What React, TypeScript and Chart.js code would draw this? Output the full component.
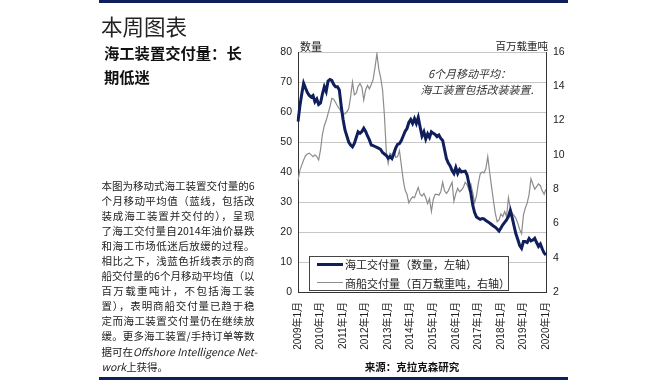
import React, { useEffect, useRef } from 'react';
import { Chart, registerables } from 'chart.js';

Chart.register(...registerables);

const yearTickLabels: string[] = [
  '2009年1月', '2010年1月', '2011年1月', '2012年1月', '2013年1月', '2014年1月',
  '2015年1月', '2016年1月', '2017年1月', '2018年1月', '2019年1月', '2020年1月',
];

const categories: string[] = [];
for (let y = 2009; y <= 2020; y++) {
  for (let m = 1; m <= 12; m++) {
    if (y === 2020 && m > 1) break;
    categories.push(`${y}年${m}月`);
  }
}

// 海工交付量（数量，左轴）- 6个月移动平均
const offshoreDeliveries: number[] = [
  56.8, 62, 66, 69.6, 68, 66.5, 65.5, 65, 65.5, 63.4,
  64.3, 62.5, 63, 66, 68.4, 66.8, 70.3, 70.8, 70.5, 69.2,
  68.4, 68.4, 67.3, 62, 57.5, 54, 52, 50, 49, 48.4,
  49.5, 51.5, 53.4, 52.9, 53.5, 54.6, 53.5, 52, 50.7, 49,
  48.8, 48.5, 48.2, 47.9, 47.5, 46.5, 46, 45.5, 44.6, 45.2,
  44.5, 46, 48, 49.2, 49.5, 50.5, 52, 53.5, 54.5, 56.5,
  57.5, 56.2, 57.8, 56.2, 58.2, 55, 52, 53.4, 51, 52.7,
  51.5, 53.4, 52.9, 52.5, 51.8, 52.3, 51.2, 50.5, 47.5, 44.5,
  43, 42, 40.5, 39.5, 41.5, 39.5, 40.8, 40, 40.2, 40.3,
  39, 36, 33, 29, 26.5, 25, 24.6, 24.2, 24.5, 24.4,
  23.8, 23.4, 23, 22.5, 22, 21.6, 21, 20.3, 21.3, 22.4,
  23.2, 24, 25.2, 27.2, 24.8, 22, 19.3, 17.5, 15.5, 14.6,
  16.8, 16.8, 16.5, 17.8, 17, 17.3, 17.9, 16.5, 15.2, 16,
  14.4, 13, 12.3,
];

// 商船交付量（百万载重吨，右轴）- 6个月移动平均
const merchantDeliveries: number[] = [
  8.5, 9.1, 9.4, 9.7, 9.95, 10.05, 10.1, 10.0, 9.9, 10.0,
  9.9, 9.7, 10.3, 11.2, 11.7, 12.0, 12.4, 12.8, 13.3, 13.25,
  13.05, 12.85, 12.7, 12.5, 12.35, 12.4, 12.5, 12.7, 13.4, 14.25,
  13.5, 13.6, 14.0, 14.15, 13.95, 13.2, 13.8, 14.05, 13.85, 14.1,
  14.4, 15.1, 15.9, 15.0, 14.5, 13.8, 12.3, 10.2, 9.5, 10.1,
  10.0, 10.25, 9.85, 9.9, 10.25, 9.4, 8.55, 7.95, 7.7, 7.2,
  7.4, 7.55, 7.5, 7.8, 8.1, 7.7, 7.6, 7.75, 7.5, 7.15,
  7.45, 6.7, 7.4, 7.7, 7.7, 7.65, 7.85, 8.4, 7.9, 7.75,
  7.9, 8.15, 8.4, 7.3, 7.75, 8.05, 7.85, 7.95, 8.1, 8.4,
  8.25, 7.95, 8.3, 7.8, 7.2, 7.6, 8.35, 8.9, 9.0, 8.95,
  9.2, 9.9, 9.0, 8.15, 7.35, 6.6, 6.1, 6.2, 6.55, 6.4,
  6.7, 6.4, 7.5, 6.9, 6.6, 6.45, 6.3, 6.0, 5.65, 5.4,
  6.5, 6.9, 7.2, 7.7, 8.6, 8.3, 8.0, 8.15, 8.3, 8.2,
  7.9, 7.7, 8.0,
];

const seriesNames = ['海工交付量（数量，左轴）', '商船交付量（百万载重吨，右轴）'];

const paragraphLines: React.ReactNode[] = [
  '本图为移动式海工装置交付量的6',
  '个月移动平均值（蓝线，包括改',
  '装成海工装置并交付的），呈现',
  '了海工交付量自2014年油价暴跌',
  '和海工市场低迷后放缓的过程。',
  '相比之下，浅蓝色折线表示的商',
  '船交付量的6个月移动平均值（以',
  '百万载重吨计，不包括海工装',
  '置），表明商船交付量已趋于稳',
  '定而海工装置交付量仍在继续放',
  '缓。更多海工装置/手持订单等数',
  <>据可在<i>Offshore Intelligence Net-</i></>,
  <><i>work</i>上获得。</>,
];

const NAVY = '#0f1f5c';
const GRAY = '#8c8c8c';
const CJK = "'Noto Sans CJK SC', sans-serif";
const TICKFONT = "'Liberation Sans', 'Noto Sans CJK SC', sans-serif";

export default function App() {
  const ref = useRef<HTMLCanvasElement | null>(null);

  useEffect(() => {
    if (!ref.current) return;
    const chart = new Chart(ref.current, {
      type: 'line',
      data: {
        labels: categories,
        datasets: [
          {
            label: seriesNames[0],
            data: offshoreDeliveries,
            borderColor: NAVY,
            borderWidth: 3,
            pointRadius: 0,
            tension: 0,
            yAxisID: 'y',
          },
          {
            label: seriesNames[1],
            data: merchantDeliveries,
            borderColor: GRAY,
            borderWidth: 1.2,
            pointRadius: 0,
            tension: 0,
            yAxisID: 'y1',
          },
        ],
      },
      options: {
        animation: false,
        responsive: false,
        events: [],
        layout: { padding: { left: 258, right: 84, top: 52, bottom: 8 } },
        plugins: { legend: { display: false }, tooltip: { enabled: false } },
        scales: {
          x: {
            type: 'category',
            grid: { display: false, drawTicks: false },
            border: { display: true, color: '#333', width: 1 },
            afterFit: (s: any) => { s.height = 80; },
            ticks: {
              autoSkip: false,
              minRotation: 90,
              maxRotation: 90,
              padding: 10,
              color: '#222',
              font: { family: TICKFONT, size: 10 },
              callback: function (this: any, value: any) {
                const lab = this.getLabelForValue(value);
                return yearTickLabels.includes(lab) ? lab : '';
              },
            },
          },
          y: {
            position: 'left',
            min: 0,
            max: 80,
            grid: { color: '#c6c6c6', lineWidth: 1, drawTicks: false },
            border: { display: true, color: '#333', width: 1 },
            afterFit: (s: any) => { s.width = 40; },
            ticks: {
              stepSize: 10,
              padding: 6,
              color: '#222',
              font: { family: TICKFONT, size: 10.5 },
            },
          },
          y1: {
            position: 'right',
            min: 2,
            max: 16,
            grid: { display: false, drawTicks: false },
            border: { display: true, color: '#333', width: 1 },
            afterFit: (s: any) => { s.width = 40; },
            ticks: {
              stepSize: 2,
              padding: 7,
              color: '#222',
              font: { family: TICKFONT, size: 10.5 },
            },
          },
        },
      },
    });
    return () => chart.destroy();
  }, []);

  const abs = (o: React.CSSProperties): React.CSSProperties => ({ position: 'absolute', ...o });

  return (
    <div style={abs({ left: 0, top: 0, width: 670, height: 380, background: '#fff', overflow: 'hidden', fontFamily: CJK, color: '#222' })}>
      <canvas ref={ref} width={670} height={380} style={abs({ left: 0, top: 0, width: 670, height: 380 })} />

      <div style={abs({ left: 99, top: 0, width: 469, height: 3, background: NAVY })} />
      <div style={abs({ left: 99, top: 377, width: 469, height: 3, background: NAVY })} />

      <div style={abs({ left: 101, top: 11, fontSize: 21.5, lineHeight: '30px', whiteSpace: 'nowrap', color: '#222' })}>本周图表</div>
      <div style={abs({ left: 104, top: 40, fontSize: 15.3, fontWeight: 700, lineHeight: '24px', whiteSpace: 'nowrap', color: '#111' })}>
        海工装置交付量：长<br />期低迷
      </div>

      <div style={abs({ left: 101.5, top: 177.5, width: 153, fontSize: 10.5, lineHeight: '15.1px', color: '#222' })}>
        {paragraphLines.map((ln, i) => (
          <div
            key={i}
            style={{
              textAlign: i === paragraphLines.length - 1 ? 'left' : 'justify',
              textAlignLast: i === paragraphLines.length - 1 ? 'left' : 'justify',
              whiteSpace: 'nowrap',
              height: '15.1px',
            }}
          >
            {ln}
          </div>
        ))}
      </div>

      <div style={abs({ left: 300, top: 38, fontSize: 11, lineHeight: '16px', whiteSpace: 'nowrap' })}>数量</div>
      <div style={abs({ right: 670 - 548, top: 38, fontSize: 10.5, lineHeight: '16px', whiteSpace: 'nowrap' })}>百万载重吨</div>

      <div style={abs({ left: 369.5, width: 200, top: 65, textAlign: 'center', fontSize: 11, fontStyle: 'italic', lineHeight: '16px', color: '#333', whiteSpace: 'nowrap' })}>6个月移动平均：</div>
      <div style={abs({ left: 377, width: 200, top: 81, textAlign: 'center', fontSize: 11, fontStyle: 'italic', lineHeight: '16px', color: '#333', whiteSpace: 'nowrap' })}>海工装置包括改装装置.</div>

      <div style={abs({ left: 309, top: 256, width: 200, height: 35, boxSizing: 'border-box', border: '1px solid #444', background: '#fff' })}>
        <div style={abs({ left: 7, top: 5.5, width: 26, height: 3, background: NAVY })} />
        <div style={abs({ left: 35, top: -1, fontSize: 11, lineHeight: '16px', whiteSpace: 'nowrap' })}>{seriesNames[0]}</div>
        <div style={abs({ left: 7, top: 25, width: 26, height: 1, background: GRAY })} />
        <div style={abs({ left: 35, top: 17.5, fontSize: 11, lineHeight: '16px', whiteSpace: 'nowrap' })}>{seriesNames[1]}</div>
      </div>

      <div style={abs({ left: 312, width: 200, top: 359, textAlign: 'center', fontSize: 10.5, fontWeight: 700, lineHeight: '16px', whiteSpace: 'nowrap', color: '#111' })}>来源：克拉克森研究</div>
    </div>
  );
}
